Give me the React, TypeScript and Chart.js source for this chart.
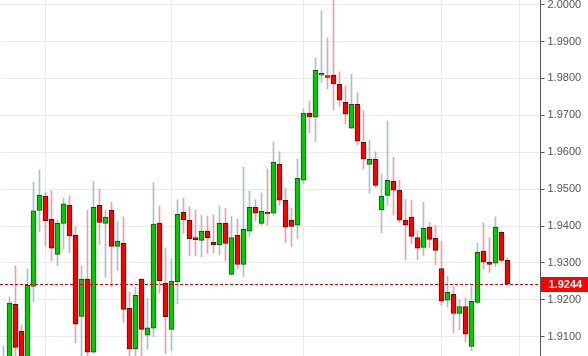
import React, { useEffect, useRef } from 'react';
import { Chart, registerables } from 'chart.js';

Chart.register(...registerables);

// 90 time slots on the x axis (85 candles + empty space on the right)
const slotLabels: string[] = [
  '1','2','3','4','5','6','7','8','9','10','11','12','13','14','15','16','17','18','19','20',
  '21','22','23','24','25','26','27','28','29','30','31','32','33','34','35','36','37','38','39','40',
  '41','42','43','44','45','46','47','48','49','50','51','52','53','54','55','56','57','58','59','60',
  '61','62','63','64','65','66','67','68','69','70','71','72','73','74','75','76','77','78','79','80',
  '81','82','83','84','85','86','87','88','89','90',
];

const opens: number[] = [
  1.9025, 1.9035, 1.9188, 1.9115, 1.9035, 1.9236, 1.9442, 1.9481, 1.9418, 1.9323,
  1.9407, 1.9456, 1.9375, 1.9155, 1.9256, 1.9058, 1.9456, 1.9407, 1.9443, 1.9345,
  1.9353, 1.9177, 1.9067, 1.9256, 1.9104, 1.9123, 1.9408, 1.9245, 1.9120, 1.9249,
  1.9437, 1.9416, 1.9369, 1.9361, 1.9386, 1.9356, 1.9349, 1.9407, 1.9269, 1.9375,
  1.9296, 1.9386, 1.9451, 1.9407, 1.9437, 1.9435, 1.9567, 1.9470, 1.9416, 1.9402,
  1.9524, 1.9706, 1.9695, 1.9809, 1.9806, 1.9809, 1.9784, 1.9735, 1.9665, 1.9730,
  1.9627, 1.9567, 1.9581, 1.9444, 1.9483, 1.9521, 1.9497, 1.9416, 1.9424, 1.9369,
  1.9342, 1.9397, 1.9367, 1.9285, 1.9199, 1.9215, 1.9163, 1.9182, 1.9074, 1.9193,
  1.9332, 1.9302, 1.9299, 1.9383, 1.9307,
];

const highs: number[] = [
  1.9075, 1.9208, 1.9292, 1.9132, 1.9284, 1.9519, 1.9552, 1.9492, 1.9495, 1.9416,
  1.9476, 1.9481, 1.9398, 1.9292, 1.9443, 1.9522, 1.9500, 1.9443, 1.9465, 1.9412,
  1.9425, 1.9221, 1.9235, 1.9257, 1.9205, 1.9517, 1.9454, 1.9341, 1.9311, 1.9471,
  1.9476, 1.9452, 1.9443, 1.9430, 1.9427, 1.9430, 1.9454, 1.9449, 1.9427, 1.9419,
  1.9560, 1.9495, 1.9471, 1.9490, 1.9555, 1.9628, 1.9601, 1.9503, 1.9449, 1.9581,
  1.9718, 1.9739, 1.9856, 1.9983, 1.9910, 2.0020, 1.9818, 1.9780, 1.9812, 1.9761,
  1.9712, 1.9633, 1.9601, 1.9541, 1.9685, 1.9586, 1.9524, 1.9472, 1.9470, 1.9388,
  1.9464, 1.9410, 1.9402, 1.9359, 1.9264, 1.9235, 1.9201, 1.9204, 1.9235, 1.9353,
  1.9408, 1.9369, 1.9425, 1.9386, 1.9313,
];

const lows: number[] = [
  1.9015, 1.9025, 1.9040, 1.9020, 1.9025, 1.9195, 1.9385, 1.9346, 1.9306, 1.9292,
  1.9337, 1.9328, 1.9084, 1.9030, 1.9040, 1.9055, 1.9350, 1.9261, 1.9236, 1.9279,
  1.9138, 1.9040, 1.9040, 1.9045, 1.9066, 1.9100, 1.9218, 1.9055, 1.9062, 1.9189,
  1.9380, 1.9319, 1.9319, 1.9317, 1.9326, 1.9328, 1.9321, 1.9306, 1.9267, 1.9284,
  1.9263, 1.9371, 1.9413, 1.9402, 1.9402, 1.9429, 1.9456, 1.9355, 1.9344, 1.9366,
  1.9515, 1.9653, 1.9629, 1.9789, 1.9772, 1.9715, 1.9724, 1.9677, 1.9664, 1.9620,
  1.9555, 1.9489, 1.9504, 1.9382, 1.9455, 1.9431, 1.9410, 1.9309, 1.9352, 1.9309,
  1.9320, 1.9341, 1.9295, 1.9185, 1.9180, 1.9111, 1.9119, 1.9086, 1.9062, 1.9188,
  1.9283, 1.9274, 1.9290, 1.9302, 1.9244,
];

const closes: number[] = [
  1.9040, 1.9191, 1.9071, 1.9030, 1.9239, 1.9441, 1.9484, 1.9414, 1.9340, 1.9407,
  1.9460, 1.9374, 1.9134, 1.9256, 1.9058, 1.9451, 1.9410, 1.9424, 1.9345, 1.9359,
  1.9174, 1.9067, 1.9212, 1.9120, 1.9124, 1.9405, 1.9252, 1.9154, 1.9250, 1.9432,
  1.9417, 1.9366, 1.9363, 1.9386, 1.9368, 1.9349, 1.9407, 1.9353, 1.9369, 1.9296,
  1.9391, 1.9451, 1.9435, 1.9440, 1.9433, 1.9573, 1.9470, 1.9397, 1.9399, 1.9529,
  1.9706, 1.9696, 1.9822, 1.9814, 1.9805, 1.9786, 1.9741, 1.9703, 1.9730, 1.9630,
  1.9581, 1.9581, 1.9510, 1.9481, 1.9524, 1.9497, 1.9416, 1.9402, 1.9372, 1.9340,
  1.9394, 1.9364, 1.9334, 1.9196, 1.9220, 1.9163, 1.9182, 1.9107, 1.9196, 1.9329,
  1.9302, 1.9296, 1.9397, 1.9307, 1.9244,
];

const yTicks: number[] = [1.91, 1.92, 1.93, 1.94, 1.95, 1.96, 1.97, 1.98, 1.99, 2.0];
const yMin = 1.90477;
const yMax = 2.00127;
const verticalGridAt: number[] = [7, 28, 50, 73, 86];
const lastPrice = 1.9244;

const UP_FILL = '#00cc00';
const UP_EDGE = '#24452a';
const DOWN_FILL = '#ff0000';
const DOWN_EDGE = '#4a1414';
const UP_WICK = '#a6c4c8';
const DOWN_WICK = '#eba0a8';
const GRID = '#ebebeb';
const AXIS = '#555555';
const FONT = '"Liberation Sans", Arial, Helvetica, sans-serif';

const lastPricePlugin = {
  id: 'lastPrice',
  afterDatasetsDraw(chart: any) {
    const { ctx, chartArea, scales } = chart;
    const y = Math.round(scales.y.getPixelForValue(lastPrice)) + 0.5;
    ctx.save();
    ctx.strokeStyle = '#e00000';
    ctx.lineWidth = 1;
    ctx.setLineDash([3, 2]);
    ctx.beginPath();
    ctx.moveTo(0, y);
    ctx.lineTo(chartArea.right, y);
    ctx.stroke();
    ctx.restore();
  },
  afterDraw(chart: any) {
    const { ctx, scales } = chart;
    const yScale = scales.y;
    const y = Math.round(yScale.getPixelForValue(lastPrice));
    const left = Math.round(yScale.left);
    ctx.save();
    ctx.fillStyle = '#ff0000';
    ctx.fillRect(left, y - 7, chart.width - left, 15);
    ctx.fillStyle = '#ffffff';
    ctx.font = 'bold 11px ' + FONT;
    ctx.textAlign = 'left';
    ctx.textBaseline = 'middle';
    ctx.fillText(lastPrice.toFixed(4), left + 7.5, y + 1);
    ctx.restore();
  },
};

export default function App() {
  const ref = useRef<HTMLCanvasElement>(null);

  useEffect(() => {
    if (!ref.current) return;
    const up = closes.map((c, i) => c >= opens[i]);
    const bodies = opens.map((o, i) => {
      const c = closes[i];
      const lo = Math.min(o, c);
      const hi = Math.max(o, c);
      if (hi - lo < 0.0005) {
        const m = (hi + lo) / 2;
        return [m - 0.00025, m + 0.00025];
      }
      return [lo, hi];
    });
    const wicks = lows.map((l, i) => [l, highs[i]]);

    const chart = new Chart(ref.current, {
      type: 'bar',
      data: {
        labels: slotLabels,
        datasets: [
          {
            data: bodies as any,
            backgroundColor: up.map((u) => (u ? UP_FILL : DOWN_FILL)),
            borderColor: up.map((u) => (u ? UP_EDGE : DOWN_EDGE)),
            borderWidth: 1,
            borderSkipped: false,
            barThickness: 5,
            grouped: false,
            order: 0,
          } as any,
          {
            data: wicks as any,
            backgroundColor: up.map((u) => (u ? UP_WICK : DOWN_WICK)),
            borderWidth: 0,
            barThickness: 1,
            grouped: false,
            order: 1,
          } as any,
        ],
      },
      options: {
        animation: false,
        responsive: false,
        maintainAspectRatio: false,
        devicePixelRatio: 1,
        layout: { padding: { left: 0.5, right: 0, top: 0, bottom: 0 } },
        plugins: {
          legend: { display: false },
          tooltip: { enabled: false },
        },
        scales: {
          x: {
            type: 'category',
            offset: true,
            ticks: { display: false, autoSkip: false },
            grid: {
              offset: false,
              drawTicks: false,
              color: (ctx: any) => (verticalGridAt.includes(ctx.index) ? GRID : 'rgba(0,0,0,0)'),
            },
            border: { display: false },
            afterFit: (s: any) => {
              s.height = 0;
              s.paddingLeft = 0;
              s.paddingRight = 0;
            },
          },
          y: {
            type: 'linear',
            position: 'right',
            min: yMin,
            max: yMax,
            afterBuildTicks: (s: any) => {
              s.ticks = yTicks.map((v) => ({ value: v }));
            },
            afterFit: (s: any) => {
              s.width = 47.5;
              s.paddingTop = 0;
              s.paddingBottom = 0;
            },
            ticks: {
              callback: (v: any) => Number(v).toFixed(4),
              color: AXIS,
              font: { family: FONT, size: 11 },
              padding: 3,
            },
            grid: {
              color: GRID,
              tickColor: AXIS,
              tickLength: 4,
              drawTicks: true,
            },
            border: { display: true, color: AXIS, width: 1 },
          },
        },
      },
      plugins: [lastPricePlugin],
    } as any);

    return () => chart.destroy();
  }, []);

  return (
    <div style={{ position: 'fixed', left: 0, top: 0, width: 588, height: 356, background: '#ffffff' }}>
      <canvas ref={ref} width={588} height={356} style={{ display: 'block', width: 588, height: 356 }} />
    </div>
  );
}
